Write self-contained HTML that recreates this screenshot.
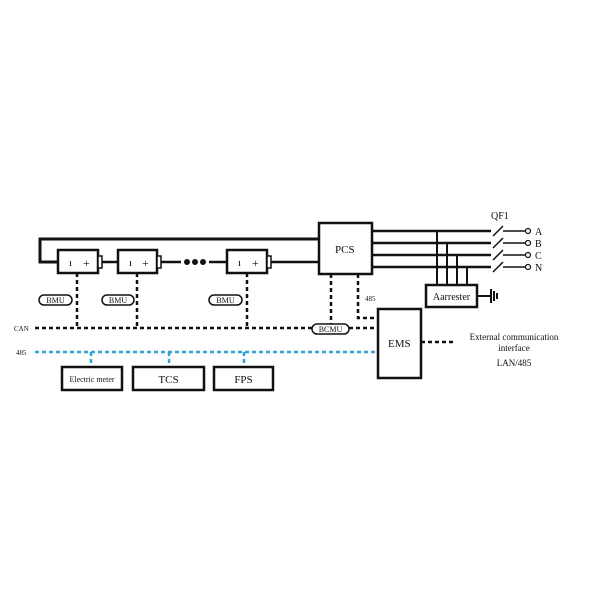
<!DOCTYPE html>
<html><head><style>body{margin:0;background:#fff}svg{display:block}text{font-family:"Liberation Serif",serif;fill:#111}</style></head><body>
<svg width="600" height="600" viewBox="0 0 600 600">
<g stroke="#111" fill="none">
<path d="M319 239 H40 V262 H58" stroke-width="3"/>
<path d="M102 262 H118 M161 262 H181 M209 262 H227 M271 262 H319" stroke-width="2.5"/>
<g stroke-width="2.5" fill="#fff">
<rect x="58" y="250" width="40" height="23"/><rect x="118" y="250" width="39" height="23"/><rect x="227" y="250" width="40" height="23"/>
</g>
<g stroke-width="1.5" fill="#fff">
<rect x="98" y="256" width="4" height="12"/><rect x="157" y="256" width="4" height="12"/><rect x="267" y="256" width="4" height="12"/>
</g>
<rect x="319" y="223" width="53" height="51" stroke-width="2.5"/>
<path d="M372 231 H491 M372 243 H491 M372 255 H491 M372 267 H491" stroke-width="2.5"/>
<path d="M493 236 L503 226 M493 248 L503 238 M493 260 L503 250 M493 272 L503 262" stroke-width="1.5"/>
<path d="M503 231 H525 M503 243 H525 M503 255 H525 M503 267 H525" stroke-width="1.5"/>
<path d="M437 231 V285 M447 243 V285 M457 255 V285 M467 267 V285" stroke-width="2"/>
<rect x="426" y="285" width="51" height="22" stroke-width="2.5"/>
<path d="M477 296 H491 M491 289 V303 M494 291 V301 M497 293 V299" stroke-width="2"/>
<g stroke-width="1.2" fill="#fff"><circle cx="528" cy="231" r="2.5"/><circle cx="528" cy="243" r="2.5"/><circle cx="528" cy="255" r="2.5"/><circle cx="528" cy="267" r="2.5"/></g>
<rect x="378" y="309" width="43" height="69" stroke-width="2.5"/>
<g stroke-width="2.5" stroke-dasharray="4 3">
<path d="M77 273 V328 M137 273 V328 M247 273 V328"/>
<path d="M35 328 H312 M349 328 H378"/>
<path d="M331 274 V324 M358 274 V318 H378"/>
<path d="M421 342 H455"/>
</g>
<g stroke="#2aa3d8" stroke-width="2.5" stroke-dasharray="4 3">
<path d="M35 352 H378 M91 352 V367 M169 352 V367 M244 352 V367"/>
</g>
<g stroke-width="1.5" fill="#fff">
<rect x="39" y="295" width="33" height="10" rx="5"/><rect x="102" y="295" width="32" height="10" rx="5"/><rect x="209" y="295" width="33" height="10" rx="5"/>
<rect x="312" y="324" width="37" height="10" rx="5"/>
</g>
<g stroke-width="2.5"><rect x="62" y="367" width="60" height="23"/><rect x="133" y="367" width="71" height="23"/><rect x="214" y="367" width="59" height="23"/></g>
</g>
<g fill="#111"><circle cx="187" cy="262" r="3"/><circle cx="195" cy="262" r="3"/><circle cx="203" cy="262" r="3"/></g>
<g font-size="11">
<text x="69" y="266">ı</text><text x="83" y="267" font-size="12">+</text>
<text x="129" y="266">ı</text><text x="142" y="267" font-size="12">+</text>
<text x="238" y="266">ı</text><text x="252" y="267" font-size="12">+</text>
</g>
<g font-size="8" text-anchor="middle">
<text x="55.5" y="303">BMU</text><text x="118" y="303">BMU</text><text x="225.5" y="303">BMU</text><text x="330.5" y="332">BCMU</text>
</g>
<text x="335" y="253" font-size="11" >PCS</text>
<text x="388" y="347" font-size="11">EMS</text>
<text x="451.5" y="300" font-size="10" text-anchor="middle">Aarrester</text>
<text x="92" y="382" font-size="8" text-anchor="middle">Electric meter</text>
<text x="168.5" y="383" font-size="11" text-anchor="middle">TCS</text>
<text x="243.5" y="383" font-size="11" text-anchor="middle">FPS</text>
<text x="491" y="219" font-size="10">QF1</text>
<g font-size="10"><text x="535" y="235">A</text><text x="535" y="247">B</text><text x="535" y="259">C</text><text x="535" y="271">N</text></g>
<text x="365" y="301" font-size="7">485</text>
<text x="14" y="331" font-size="7">CAN</text>
<text x="16" y="355" font-size="7">485</text>
<g font-size="9" text-anchor="middle"><text x="514" y="340">External communication</text><text x="514" y="351">interface</text><text x="514" y="366">LAN/485</text></g>
</svg>
</body></html>
